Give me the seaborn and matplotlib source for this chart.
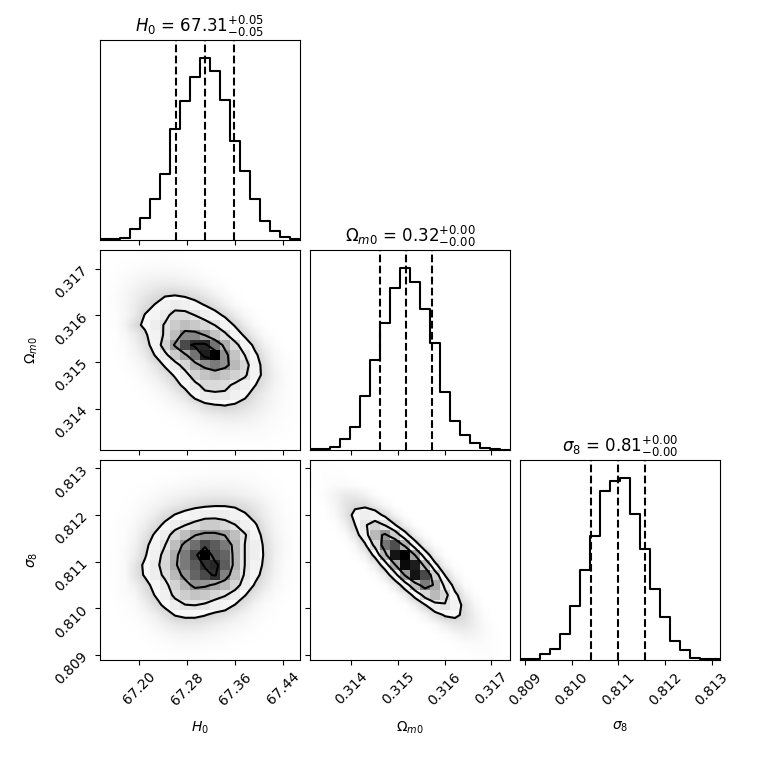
"""
Corner plot of the H0 / Omega_m0 / sigma8 posterior.
Histogram heights and 2D cell densities were read off the reference figure.
"""

import numpy as np
import pandas as pd
import matplotlib
matplotlib.use("Agg")
import matplotlib.pyplot as plt
from matplotlib.colors import LinearSegmentedColormap
import seaborn as sns

# ---- parameters ---------------------------------------------------------
labels = [r"$H_0$", r"$\Omega_{m0}$", r"$\sigma_8$"]
ranges = [(67.1345, 67.4678), (0.31311, 0.31740), (0.808893, 0.813178)]
ticks = [[67.20, 67.28, 67.36, 67.44],
         [0.314, 0.315, 0.316, 0.317],
         [0.809, 0.810, 0.811, 0.812, 0.813]]
tick_fmt = ["{:.2f}", "{:.3f}", "{:.3f}"]
titles = [r"$H_0$ = ${67.31}_{-0.05}^{+0.05}$",
          r"$\Omega_{m0}$ = ${0.32}_{-0.00}^{+0.00}$",
          r"$\sigma_8$ = ${0.81}_{-0.00}^{+0.00}$"]
quantiles = [[67.261, 67.3095, 67.358],
             [0.314606, 0.315163, 0.315720],
             [0.810413, 0.810991, 0.811570]]

# ---- 1D histograms (20 bins over each range) ------------------------------
h0_counts = [2, 3, 6, 33, 66, 123, 196, 331, 416, 486,
             543, 506, 418, 296, 206, 123, 58, 28, 10, 4]
om_counts = [2, 3, 10, 32, 70, 160, 268, 378, 485, 543,
             503, 420, 320, 172, 88, 45, 22, 7, 3, 0]
s8_counts = [2, 4, 17, 32, 78, 162, 268, 370, 505, 535,
             544, 438, 333, 212, 128, 58, 30, 7, 2, 2]

# ---- 2D histograms: % of peak cell, rows from top (high y) to bottom ------
h0_om_grid = [
    "0 0 0 0.2 0.3 0.3 0.5 0.3 0.2 0.1 0 0 0 0 0 0 0 0 0 0",
    "0 0.2 0.4 0.6 0.8 1.0 1.0 0.9 0.7 0.4 0.2 0.1 0 0 0 0 0 0 0 0",
    "0.1 0.4 0.8 1.4 2.0 2.4 2.6 2.4 2.0 1.4 0.8 0.4 0.2 0 0 0 0 0 0 0",
    "0.2 0.6 1.4 2.6 4.0 5.0 5.6 5.6 4.8 3.6 2.4 1.2 0.6 0.2 0 0 0 0 0 0",
    "0.2 0.8 2.0 4.0 6.5 9.0 12 13 11 8.5 6 3.5 1.6 0.6 0.2 0 0 0 0 0",
    "0.2 0.8 2.4 5.0 9.0 14 22 26 24 18 13 8 4 1.6 0.5 0.2 0 0 0 0",
    "0.1 0.7 2.2 5.5 14 20 28 38 38 32 25 18 11 5 2 0.6 0.2 0 0 0",
    "0.1 0.5 3 10 16 25 34 45 50 46 40 32 22 12 5 1.6 0.4 0.1 0 0",
    "0 0.4 1.6 5 11 22 35 50 68 68 60 48 36 22 11 4.5 1.2 0.3 0 0",
    "0 0.3 1.2 3.5 8 20 42 63 84 91 92 74 56 38 22 10 3.5 1 0.2 0",
    "0 0.2 0.8 2.5 5.5 14 28 45 58 74 94 100 66 48 32 16 6 2 0.5 0.1",
    "0 0.1 0.5 1.4 3 7 15 26 40 56 66 72 66 52 40 20 8 2.5 0.8 0.2",
    "0 0 0.3 0.8 2 4 8 15 26 42 48 52 48 42 35 20 9 3.5 1.2 0.4",
    "0 0 0.1 0.4 1 2 4.5 9 17 28 38 38 36 30 24 14 7 3 1.2 0.4",
    "0 0 0 0.2 0.5 1 2.2 4.5 8 18 28 30 30 24 16 8 4.5 2.2 1 0.4",
    "0 0 0 0.1 0.2 0.5 1 2 3.5 6 10 13 14 12 9 6 3.5 1.8 0.8 0.3",
    "0 0 0 0 0.1 0.2 0.4 0.8 1.5 2.5 4 5 6 6 5 3.5 2.2 1.2 0.6 0.3",
    "0 0 0 0 0 0.1 0.2 0.3 0.6 1 1.6 2 2.4 2.6 2.4 2 1.4 0.8 0.4 0.2",
    "0 0 0 0 0 0 0.1 0.1 0.2 0.4 0.6 0.8 1 1.1 1.1 1 0.8 0.5 0.3 0.1",
    "0 0 0 0 0 0 0 0 0.1 0.1 0.2 0.3 0.4 0.4 0.4 0.4 0.3 0.2 0.1 0.1",
]

h0_s8_grid = [
    "0 0 0 0 0 0 0.1 0.1 0.2 0.2 0.3 0.3 0.3 0.3 0.3 0.3 0.2 0.1 0 0",
    "0 0 0 0 0.1 0.2 0.3 0.4 0.6 0.8 0.9 1.0 1.0 1.0 0.9 0.7 0.4 0.2 0.1 0",
    "0 0 0.1 0.2 0.3 0.6 0.9 1.2 1.6 2.0 2.2 2.4 2.4 2.2 1.8 1.3 0.8 0.4 0.2 0",
    "0 0.1 0.2 0.4 0.8 1.4 2.2 3.0 3.8 4.5 5.0 5.2 5.0 4.6 3.6 2.6 1.6 0.8 0.3 0.1",
    "0 0.1 0.3 0.8 1.5 2.6 4.2 5.8 7.5 9.5 11 12 12 10.5 8.5 6.0 3.4 1.6 0.6 0.2",
    "0 0.2 0.5 1.2 2.5 5 9 14 18 22 25 26 25 22 15 9 4.5 2 0.8 0.2",
    "0.1 0.3 0.8 2 4.5 9 16 25 32 38 45 45 40 33 24 15 6.5 2.5 1 0.3",
    "0.1 0.4 1 2.5 7 15 25 40 50 60 65 65 60 50 34 20 8.5 3.2 1.2 0.4",
    "0.1 0.4 1.2 3.5 10 20 32 50 65 75 85 80 72 55 32 25 10 4 1.4 0.5",
    "0.1 0.5 1.4 4.5 12 24 38 56 72 85 100 82 78 55 32 25 11 4 1.4 0.5",
    "0.1 0.5 1.6 7 16 27 40 58 72 80 90 92 80 55 32 22 10 3.5 1.2 0.4",
    "0.1 0.5 1.6 7 15 25 36 52 66 78 84 90 70 50 30 18 8 3 1 0.3",
    "0.1 0.4 1.2 4 9 18 28 42 54 66 64 58 52 40 25 12 6 2.2 0.8 0.2",
    "0 0.3 1 2 7 14 24 36 44 48 46 40 34 25 14 7 3 1.2 0.4 0.1",
    "0 0.2 0.6 1.2 4 9 16 26 32 33 30 24 20 13 7 3 1.2 0.6 0.2 0.1",
    "0 0.1 0.4 0.8 2 4 8 14 16 16 14 10 8 5 3 1.6 0.8 0.3 0.1 0",
    "0 0 0.2 0.4 1 2 4 6 7 7 6 4.5 3.5 2.2 1.5 0.8 0.4 0.2 0 0",
    "0 0 0.1 0.2 0.5 1 1.8 2.6 3 3 2.6 2 1.4 1 0.6 0.4 0.2 0.1 0 0",
    "0 0 0 0.1 0.2 0.4 0.7 1 1.2 1.2 1 0.8 0.6 0.4 0.2 0.1 0.1 0 0 0",
    "0 0 0 0 0.1 0.1 0.3 0.4 0.4 0.4 0.4 0.3 0.2 0.1 0.1 0 0 0 0 0",
]

om_s8_grid = [
    "0.4 0.4 0.2 0.1 0 0 0 0 0 0 0 0 0 0 0 0 0 0 0 0",
    "0.3 0.5 0.5 0.3 0.1 0 0 0 0 0 0 0 0 0 0 0 0 0 0 0",
    "0.25 0.6 1.2 1.2 0.6 0.25 0.1 0 0 0 0 0 0 0 0 0 0 0 0 0",
    "0.2 1.0 3.0 5.2 5.1 2.9 0.96 0.2 0 0 0 0 0 0 0 0 0 0 0 0",
    "0 0.5 2.4 6.6 10.4 9.4 5.0 1.5 0.3 0 0 0 0 0 0 0 0 0 0 0",
    "0 0.2 1.5 6.4 16.1 23.3 19.5 9.4 2.6 0.4 0 0 0 0 0 0 0 0 0 0",
    "0 0 0.5 3.2 12.7 29 39 30 13.4 3.4 0.5 0 0 0 0 0 0 0 0 0",
    "0 0 0 1 6.3 23 49.5 61 43 17.7 4.2 0.6 0 0 0 0 0 0 0 0",
    "0 0 0 0.3 1.8 10.6 36 70 79 52 19.6 4.3 0.8 0 0 0 0 0 0 0",
    "0 0 0 0 0.4 3 16 51 91 95 57 20 4 0.5 0 0 0 0 0 0",
    "0 0 0 0 0 0.5 3.9 19.6 56 93 89.5 50 16 2.9 0.4 0 0 0 0 0",
    "0 0 0 0 0 0 0.8 4.9 22.5 59.6 91 80.5 41 12.2 2 0.3 0 0 0 0",
    "0 0 0 0 0 0 0 0.8 4.7 19.7 48 68 55 26 7.1 1.1 0.2 0 0 0",
    "0 0 0 0 0 0 0 0 0.6 4.3 16.8 37.8 49 36.8 15.9 4.0 0.6 0 0 0",
    "0 0 0 0 0 0 0 0 0 0.4 3.4 12 24.9 29.8 20.6 8.2 1.9 0.3 0 0",
    "0 0 0 0 0 0 0 0 0 0 0.4 2.3 7.4 14.1 15.5 9.9 3.6 0.8 0 0",
    "0 0 0 0 0 0 0 0 0 0 0 0.3 1.2 3.7 6.5 6.6 3.9 1.3 0.3 0",
    "0 0 0 0 0 0 0 0 0 0 0 0 0.1 0.6 1.9 3.0 2.7 1.4 0.5 0",
    "0 0 0 0 0 0 0 0 0 0 0 0 0 0.1 0.3 0.7 1.0 0.85 0.4 0.1",
    "0 0 0 0 0 0 0 0 0 0 0 0 0 0 0 0.2 0.5 0.6 0.4 0.1",
]

counts_1d = [h0_counts, om_counts, s8_counts]
grids_2d = {(1, 0): h0_om_grid, (2, 0): h0_s8_grid, (2, 1): om_s8_grid}
# contour levels as fraction of the peak (0.5, 1, 1.5, 2 sigma)
sigma_levels = [0.135, 0.325, 0.607, 0.882]
n_levels = {(1, 0): 4, (2, 0): 4, (2, 1): 3}

density_cmap = LinearSegmentedColormap.from_list("density", [(1, 1, 1, 0), (0, 0, 0, 1)])
halo_cmap = LinearSegmentedColormap.from_list("halo", ["white", "black"])


def style_ticks(ax, row, col):
    """Ticks and labels in the corner layout"""
    ax.set_xticks(ticks[col])
    if row == 2:
        ax.set_xticklabels([tick_fmt[col].format(t) for t in ticks[col]], rotation=45)
        ax.set_xlabel(labels[col], fontsize=10)
        ax.xaxis.set_label_coords(0.5, -0.3)
    else:
        ax.set_xticklabels([])
        ax.set_xlabel("")
    if row == col:
        ax.set_yticks([])
        ax.set_ylabel("")
        return
    ax.set_yticks(ticks[row])
    if col == 0:
        ax.set_yticklabels([tick_fmt[row].format(t) for t in ticks[row]], rotation=45)
        ax.set_ylabel(labels[row], fontsize=10)
        ax.yaxis.set_label_coords(-0.3, 0.5)
    else:
        ax.set_yticklabels([])
        ax.set_ylabel("")


def plot_1d(ax, i):
    lo, hi = ranges[i]
    edges = np.linspace(lo, hi, 21)
    df = pd.DataFrame({"x": 0.5 * (edges[1:] + edges[:-1]),
                       "w": np.array(counts_1d[i], float)})
    sns.histplot(data=df, x="x", weights="w", bins=20, binrange=(lo, hi),
                 element="step", fill=False, color="k", linewidth=1.5, ax=ax)
    # close the outline down to the baseline at both ends, like a step hist
    ax.vlines([lo, hi], 0, [df["w"].iloc[0], df["w"].iloc[-1]], color="k", lw=1.5)
    for q in quantiles[i]:
        ax.axvline(q, ls="dashed", color="k", lw=1.5)
    ax.set_xlim(lo, hi)
    ax.set_ylim(0, 1.1 * df["w"].max())
    ax.set_title(titles[i], fontsize=12)


def plot_2d(ax, row, col):
    grid = np.array([r.split() for r in grids_2d[(row, col)]], float)
    (x0, x1), (y0, y1) = ranges[col], ranges[row]
    xe = np.linspace(x0, x1, 21)
    ye = np.linspace(y0, y1, 21)
    xc = 0.5 * (xe[1:] + xe[:-1])
    yc = 0.5 * (ye[1:] + ye[:-1])
    z = grid[::-1]  # rows now from low y to high y
    zmax = z.max()

    # faint cloud standing in for the individual samples
    halo = 0.42 * (1 - np.exp(-4 * grid / zmax))
    ax.imshow(halo, extent=(x0, x1, y0, y1), origin="upper", cmap=halo_cmap,
              vmin=0, vmax=1, interpolation="bilinear", aspect="auto", zorder=0)

    levels = [f * zmax for f in sigma_levels[:n_levels[(row, col)]]]
    # white base fill inside the outer contour
    ax.contourf(xc, yc, z, [levels[0], zmax * 1.01], colors="white", zorder=1)

    df = pd.DataFrame({"x": np.repeat(xc, 20), "y": np.tile(yc, 20),
                       "w": z.T.ravel()})
    sns.histplot(data=df, x="x", y="y", weights="w", bins=20,
                 binrange=((x0, x1), (y0, y1)), cmap=density_cmap,
                 vmin=0, vmax=zmax, ax=ax, zorder=2)

    ax.contour(xc, yc, z, levels, colors="k", linewidths=1.5, zorder=3)
    ax.set_xlim(x0, x1)
    ax.set_ylim(y0, y1)


def main():
    fig, axes = plt.subplots(3, 3, figsize=(7.6, 7.6), dpi=100)
    fig.subplots_adjust(left=1 / 7.6, bottom=1 / 7.6, right=7.2 / 7.6, top=7.2 / 7.6,
                        wspace=0.05, hspace=0.05)
    for row in range(3):
        for col in range(3):
            ax = axes[row, col]
            if col > row:
                ax.set_frame_on(False)
                ax.set_xticks([])
                ax.set_yticks([])
                continue
            if row == col:
                plot_1d(ax, row)
            else:
                plot_2d(ax, row, col)
            style_ticks(ax, row, col)

    fig.savefig("out.png", dpi=100)


if __name__ == "__main__":
    main()
